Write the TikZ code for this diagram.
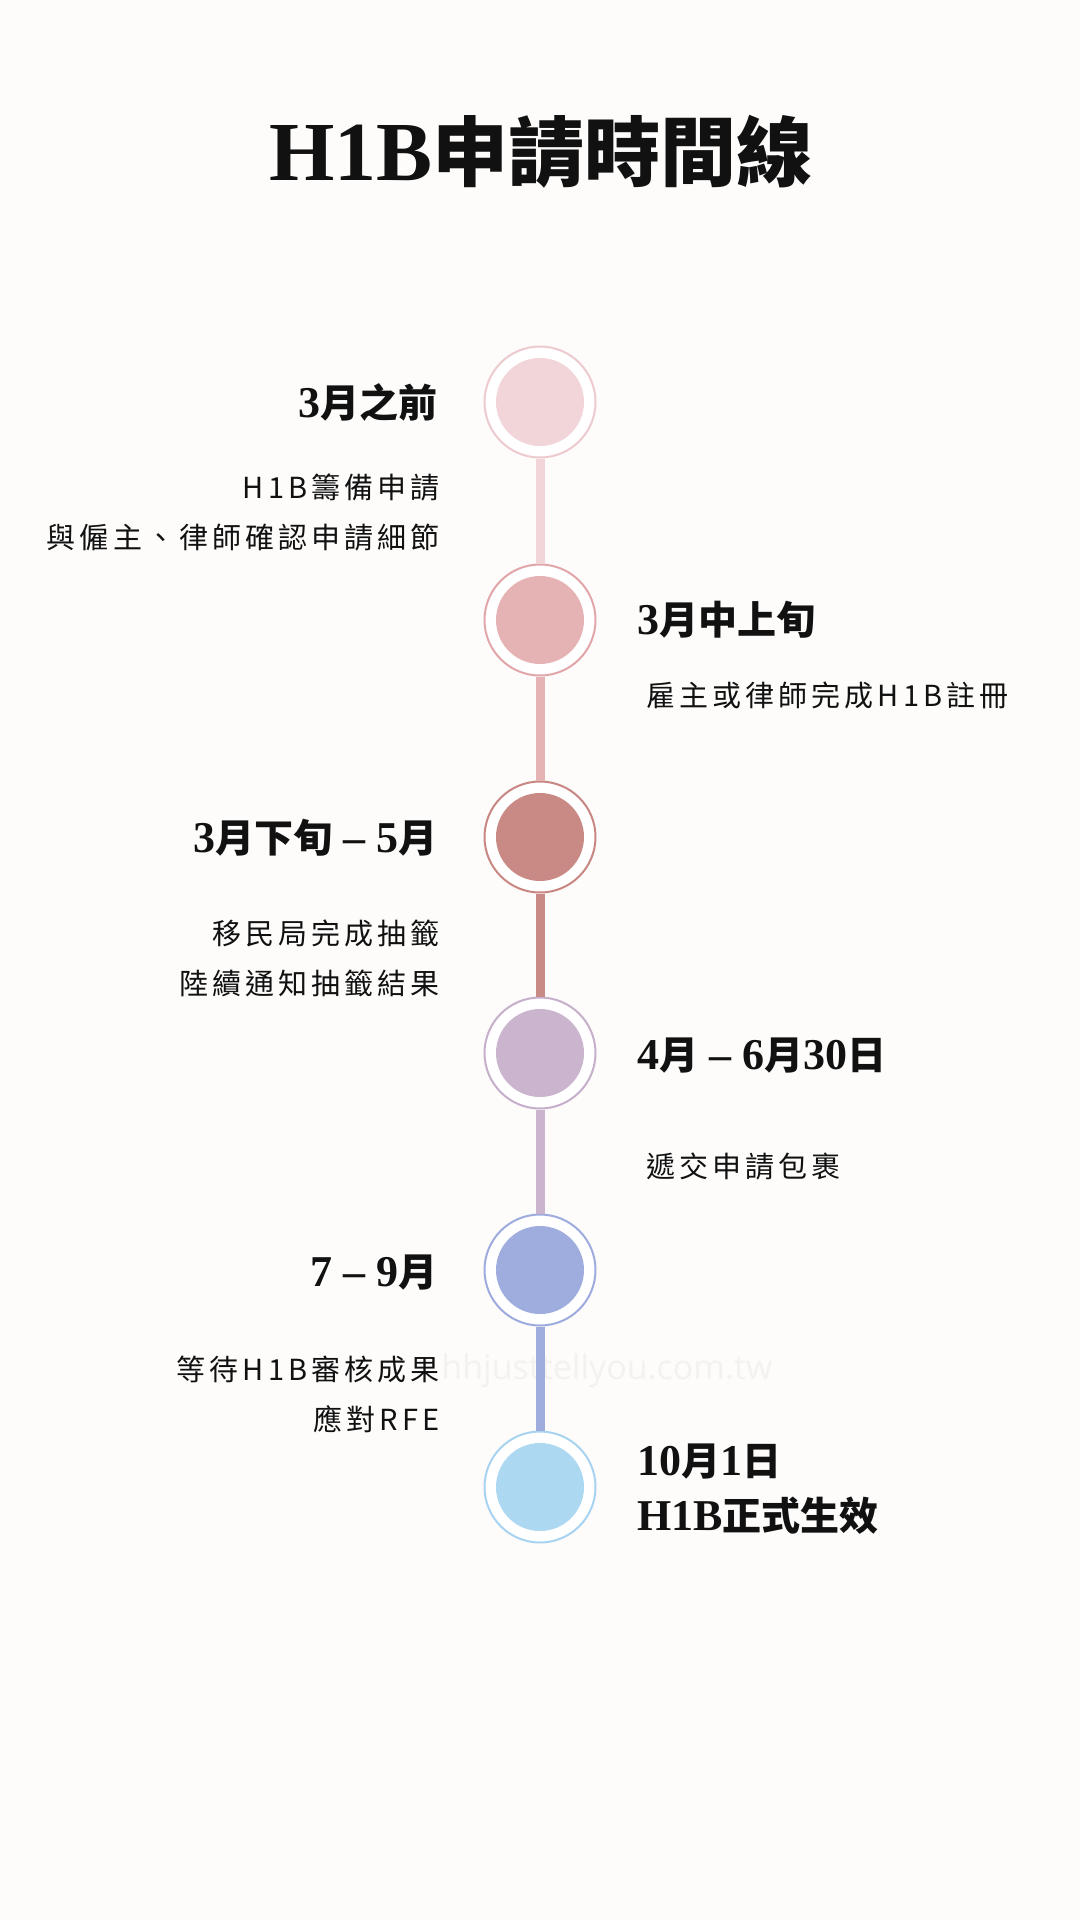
\documentclass[tikz,border=0pt]{standalone}
\usepackage{fontspec}
\newfontfamily\serb{Liberation Serif}
\newfontfamily\cjk{Noto Sans CJK TC}
\newfontfamily\bodyf{Noto Sans CJK TC}[LetterSpace=14]
\newfontfamily\wmf{Open Sans}
\newcommand\hdig[1]{{\serb\bfseries\fontsize{22}{26}\selectfont #1}}
\newcommand\hcjk[1]{{\cjk\bfseries\fontsize{19.5}{24}\selectfont #1}}
\definecolor{bg}{HTML}{FDFCFB}
\definecolor{fa}{HTML}{F2D5D8}\definecolor{ra}{HTML}{EDCACE}
\definecolor{fb}{HTML}{E6B3B5}\definecolor{rb}{HTML}{E0A6AA}
\definecolor{fc}{HTML}{C98A85}\definecolor{rc}{HTML}{C98783}
\definecolor{fd}{HTML}{CBB4CE}\definecolor{rd}{HTML}{C6AFCA}
\definecolor{fe}{HTML}{9FADDE}\definecolor{re}{HTML}{9DABDD}
\definecolor{ff}{HTML}{ADD8F2}\definecolor{rf}{HTML}{A8D3F0}
\definecolor{wm}{HTML}{F4F2F1}
\definecolor{ink}{HTML}{111111}
\tikzset{
  ring/.style={circle, minimum size=55.5pt, inner sep=0pt, fill=white, line width=1pt},
  disc/.style={circle, minimum size=44pt, inner sep=0pt},
  conn/.style={line width=4.5pt},
  heading/.style={inner sep=0pt, text=ink},
  bodytxt/.style={font=\bodyf\fontsize{14.5}{17}\selectfont, inner sep=0pt, text=ink},
}
\begin{document}
\begin{tikzpicture}[x=0.5pt,y=-0.5pt]
\fill[bg] (0,0) rectangle (1080,1920);
\useasboundingbox (0,0) rectangle (1080,1920);

% title
\node[anchor=base, inner sep=0pt, text=ink] (title) at (541,181)
  {{\serb\bfseries\fontsize{42}{48}\selectfont H1B}{\cjk\bfseries\fontsize{38}{44}\selectfont 申請時間線}};

% watermark
\node[anchor=base west, inner sep=0pt, text=wm, font=\wmf\fontsize{17}{20}\selectfont] (wmark) at (441,1379) {hhjusttellyou.com.tw};

% circles
\node[ring, draw=ra] (c1) at (540,402) {};
\node[ring, draw=rb] (c2) at (540,620) {};
\node[ring, draw=rc] (c3) at (540,837) {};
\node[ring, draw=rd] (c4) at (540,1053) {};
\node[ring, draw=re] (c5) at (540,1270) {};
\node[ring, draw=rf] (c6) at (540,1487) {};
\node[disc, fill=fa] (d1) at (c1) {};
\node[disc, fill=fb] (d2) at (c2) {};
\node[disc, fill=fc] (d3) at (c3) {};
\node[disc, fill=fd] (d4) at (c4) {};
\node[disc, fill=fe] (d5) at (c5) {};
\node[disc, fill=ff] (d6) at (c6) {};

% connectors
\draw[conn, fa] (c1.south) -- (c2.north);
\draw[conn, fb] (c2.south) -- (c3.north);
\draw[conn, fc] (c3.south) -- (c4.north);
\draw[conn, fd] (c4.south) -- (c5.north);
\draw[conn, fe] (c5.south) -- (c6.north);

% step 1 (left)
\node[heading, anchor=base east] (h1) at (438,417) {\hdig{3}\hcjk{月之前}};
\node[bodytxt, anchor=base east] (b1a) at (440,498) {H1B籌備申請};
\node[bodytxt, anchor=base east] (b1b) at (440,548) {與僱主、律師確認申請細節};

% step 2 (right)
\node[heading, anchor=base west] (h2) at (637,634) {\hdig{3}\hcjk{月中上旬}};
\node[bodytxt, anchor=base west] (b2) at (646,706) {雇主或律師完成H1B註冊};

% step 3 (left)
\node[heading, anchor=base east] (h3) at (438,852) {\hdig{3}\hcjk{月下旬}\hdig{~–~5}\hcjk{月}};
\node[bodytxt, anchor=base east] (b3a) at (440,944) {移民局完成抽籤};
\node[bodytxt, anchor=base east] (b3b) at (440,994) {陸續通知抽籤結果};

% step 4 (right)
\node[heading, anchor=base west] (h4) at (637,1069) {\hdig{4}\hcjk{月}\hdig{~–~6}\hcjk{月}\hdig{30}\hcjk{日}};
\node[bodytxt, anchor=base west] (b4) at (646,1177) {遞交申請包裹};

% step 5 (left)
\node[heading, anchor=base east] (h5) at (438,1286) {\hdig{7~–~9}\hcjk{月}};
\node[bodytxt, anchor=base east] (b5a) at (440,1380) {等待H1B審核成果};
\node[bodytxt, anchor=base east] (b5b) at (440,1430) {應對RFE};

% step 6 (right)
\node[heading, anchor=base west] (h6a) at (637,1475) {\hdig{10}\hcjk{月}\hdig{1}\hcjk{日}};
\node[heading, anchor=base west] (h6b) at (637,1530) {\hdig{H1B}\hcjk{正式生效}};
\end{tikzpicture}
\end{document}
